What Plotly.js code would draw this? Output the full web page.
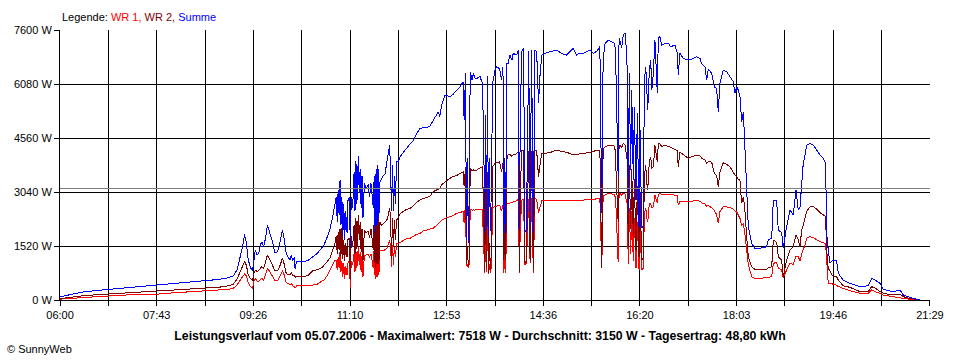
<!DOCTYPE html>
<html>
<head>
<meta charset="utf-8">
<script src="https://cdn.plot.ly/plotly-3.0.1.min.js"></script>
<style>
html,body{margin:0;padding:0;background:#fff;}
#chart{width:960px;height:360px;}
#chart .scatterlayer path, #chart .gridlayer path, #chart .xlines-above, #chart .ylines-above, #chart .shapelayer path, #chart .xtick, #chart .ytick {shape-rendering: crispEdges;}
</style>
</head>
<body>
<div id="chart"></div>
<script>
// Time of day in minutes after midnight
const timeMin = [
360,366,372,385,400,412,430,445,464,480,500,516,530,540,545,549,552,555,557,559,561,563.5,565.5,567,568.5,570.5,572,574,575.5,577.5,579.5,581.5,583,585,587,589.5,591.5,593,595,597.5,599.5,601.5,603.5,605.5,607,608.5,610,611,612.5,616,620,625,630,635,639,642,645,648,651,653.5,
655,656,657,658,659,660,661,662,663,664,665,666.5,667.5,669,670,671,672.5,674,675,676,677,678.5,679.5,680.5,681.5,682.5,683.5,685,687,689,690.5,692,693,694.5,695.5,696.5,697.5,698.5,699.5,700.5,701.5,703,705,707,709,710.5,712,713,714,715,716,717,718,719.5,721.2,723,727,730,734,737.5,741,744.5,748,751.5,755,758.5,762,764,765.5,767.5,771,774,776.5,780,783.5,787,790.5,791.5,793,794,795,796,797,798,800,801.5,803,805,808.5,811,812.5,813.5,814.5,815.5,816.5,817.5,818.5,819.5,820.5,822,824.5,826.5,829.5,831.5,833,834,835,836,837,838.5,840.5,842.5,844,847.5,849.5,850.5,851.5,853,855,856.5,858,859.5,860.5,862,863.5,865.5,867,869,871,872.5,874.5,878,883,890.5,895.5,901,905,908,911.5,915,919,922.5,926,929.5,933,936.5,938.5,940,942,945.5,949,952.5,953.7,956,957,958,959.8,961.5,963.3,965,965.8,966.8,967.9,969.4,970.5,972.2,973.3,975.1,976.5,978.3,979.4,981.2,982.9,984,985.5,986.6,987.6,989.3,990.8,991.9,993.6,995.3,996.4,997.8,998.9,1000.7,1002.5,1006,1009.6,1012.1,1016.7,1019.2,1020.2,1022,1025.6,1030.9,1036.3,1039.9,1043.4,1045.2,1048.7,1050.5,1052.3,1055.9,1058.7,1061.2,1062.9,1064.7,1068.3,1071.9,1075.4,1079,1080.8,1082.6,1084.3,1086.1,1087.9,1089.7,1091.2,1093.3,1095,1098.6,1102.1,1107.5,1114.6,1116.3,1120,1121.7,1125.3,1127,1130.6,1132.3,1135.9,1139.5,1143,1145.9,1148.4,1150.2,1152,1153.7,1155.5,1157.3,1160.9,1164.4,1168,1171.5,1175.1,1176.9,1178,1178.7,1180.4,1182.2,1185.7,1189.3,1191.1,1196.4,1203.6,1214.2,1223.1,1226.7,1230.3,1235.6,1239.1,1249.8,1257,1260.5,1267.6,1274.8,1278
];
// Summe (W)
const summe = [
90,120,170,230,270,300,340,380,410,450,500,540,580,630,680,850,1150,1500,1849,1600,1130,900,820,1150,1400,1270,1300,1550,1640,1500,1750,2110,2000,1800,1620,1320,1350,1410,1650,1970,1700,1310,1200,1130,1250,1100,1200,880,1080,1080,1080,1120,1210,1320,1450,1560,1750,1970,2330,2630,
2900,2200,3100,2400,3380,2100,2900,1800,2700,1700,2500,1900,2800,2900,1500,2900,2600,3600,2500,3900,2700,4050,3000,3700,2600,3500,2300,3300,3150,3250,2900,3300,3000,2600,3500,1900,3700,2100,3800,2300,3300,3400,3500,3550,3900,4050,4360,3600,2500,3800,2500,3500,2700,3900,3890,4030,4150,4270,4400,4500,4700,4830,4850,4850,4900,5070,5200,5300,5150,5490,5770,5740,5720,5800,5910,6000,6150,5070,6380,1700,4000,1600,3000,6430,6200,6380,6250,6240,6290,6100,4500,1900,5200,2000,6300,1800,4000,1950,3000,6100,6475,6570,6500,6200,6550,1877,4000,1900,6650,6660,6897,6750,6944,6900,7038,1970,5000,7000,7085,1970,1900,5500,7000,2100,7050,1900,7040,6990,5537,6300,6900,6944,6991,7038,6940,6897,6990,7085,6897,6950,6944,6990,7038,6944,7000,7131,2440,6800,7226,7319,7280,7226,6381,3472,7366,7300,7100,7460,7518,7000,6381,2440,6381,3660,5912,3378,5442,2815,5255,2064,4786,2018,2100,6193,6568,5723,5349,6474,6756,5900,6381,7319,6600,5818,7366,7413,7178,7226,7226,7131,7178,6944,6334,6944,6803,6756,6800,6850,6803,6650,6568,6193,6500,6381,6005,5950,5301,6099,6474,6430,6287,6146,5818,6000,5912,5723,5020,5300,4411,3097,2064,1595,1455,1455,1500,1689,1736,2815,2790,1970,1900,1455,2064,2533,2400,3097,2533,2600,3190,3848,4082,4363,4411,4363,4222,4082,3988,3900,3097,1877,1407,1032,1126,1100,750,563,469,375,400,610,563,469,300,235,282,141,75,19,0
];
// WR 2 (W)
const wr2 = [
40,60,90,120,150,170,200,230,250,280,310,330,360,400,440,590,760,950,1080,980,700,600,540,760,840,800,820,900,940,890,1050,1270,1200,1080,960,820,830,845,980,1175,1000,750,720,705,780,690,700,640,660,650,656,700,830,850,900,980,1090,1170,1400,1590,
1800,1300,1900,1400,2000,1250,2020,1150,1700,1100,1600,1200,1700,1750,560,1800,1500,2100,1300,2300,1450,2390,1700,2200,1350,2000,1100,1950,1900,1950,1750,2000,1800,1400,2300,900,2500,1000,2600,1000,2200,2100,2150,2200,2250,2400,2580,2300,1150,2300,1500,2250,1700,2250,2350,2420,2500,2550,2580,2680,2750,2820,2850,2880,2920,3050,3100,3140,3140,3250,3330,3380,3426,3480,3500,3567,3600,3200,3750,1000,1500,950,1200,3700,3650,3660,3640,3660,3720,3754,2500,800,3000,900,3600,750,1600,850,1300,3750,3848,3870,3894,3600,3850,1126,2400,1130,3950,4082,4100,4050,4082,4120,4175,797,3000,4220,4200,1032,1100,3000,4190,1100,4200,850,4220,4200,3472,3800,4130,4129,4150,4222,4180,4160,4120,4082,4100,4120,4130,4140,4170,4200,4210,4222,900,4270,4300,4363,4350,4330,3660,2200,4360,4363,4300,4411,4363,4100,3900,1500,3800,2000,3700,1800,3400,1400,3200,1200,3000,1126,1200,3500,3800,3300,3100,3900,4034,3700,3750,4363,4100,3900,4400,4390,4330,4350,4330,4300,4250,4200,3754,4150,4100,3988,4050,4082,4060,3990,3950,3848,3900,3880,3567,3500,3190,3600,3867,3820,3750,3567,3520,3480,3400,3378,2721,2900,2600,1782,1220,938,863,863,863,900,938,1689,1620,1220,1126,656,1130,1400,1501,1830,1700,1501,1970,2100,2299,2500,2627,2627,2560,2460,2400,2365,1970,1407,891,800,656,656,560,400,356,235,235,375,340,240,188,141,170,94,40,19,0
];
// WR 1 (W)
const wr1 = [
25,30,45,70,100,120,140,150,165,200,230,245,265,300,330,420,540,650,730,680,470,380,330,520,610,520,520,580,610,560,700,890,840,740,650,545,550,565,680,825,700,490,470,420,470,400,380,330,400,395,394,400,420,450,520,560,680,840,1000,1126,
1100,850,1200,900,1350,800,1100,650,1050,600,950,700,1050,1100,350,1100,1000,1300,800,1400,900,1500,1000,1350,800,1250,650,1250,1270,1280,1200,1300,1150,900,1500,600,1650,650,1700,700,1400,1380,1400,1410,1450,1550,1690,1500,940,1550,1000,1500,1200,1600,1595,1620,1690,1730,1740,1800,1850,1880,1950,1970,2000,2020,2100,2160,2200,2240,2300,2320,2346,2380,2440,2460,2490,2180,2720,950,1000,900,1000,2550,2530,2540,2530,2545,2545,2540,1500,750,1700,800,2200,720,1000,760,900,2600,2627,2650,2674,2500,2670,750,1800,760,2700,2721,2730,2740,2768,2790,2834,750,2000,2815,2830,1000,1032,2000,2830,1032,2862,750,2850,2840,2440,2600,2800,2815,2820,2830,2815,2815,2810,2810,2808,2812,2815,2815,2820,2830,2850,2862,892,2956,2956,3003,2990,2960,2600,1079,2990,3003,2950,3003,2980,2800,2700,1000,2600,1300,2500,1100,2300,900,2200,850,2000,844,900,2400,2600,2300,2200,2700,2721,2600,2620,2956,2850,2721,2980,3003,2960,2956,2956,2956,2956,2930,2674,2768,2770,2760,2790,2797,2780,2740,2700,2646,2660,2600,2520,2400,2158,2486,2627,2620,2610,2560,2500,2480,2393,2299,2100,2150,1900,1407,1000,656,610,610,620,640,656,1032,1060,900,844,610,844,1032,1000,1220,1220,1100,1300,1407,1550,1736,1783,1760,1689,1640,1610,1595,1407,1032,469,469,440,420,380,330,260,188,188,282,240,190,141,94,75,47,20,0,0
];
const average = 3150;
const seriesNames = ['WR 1', 'WR 2', 'Summe'];
const seriesColors = ['#ff0000', '#800000', '#0000ff'];
const xTickLabels = ['06:00','07:43','09:26','11:10','12:53','14:36','16:20','18:03','19:46','21:29'];
const yTicks = [0, 1520, 3040, 4560, 6080, 7600];
const titleText = 'Leistungsverlauf vom 05.07.2006 - Maximalwert: 7518 W - Durchschnitt: 3150 W - Tagesertrag: 48,80 kWh';

const xStart = 360, xEnd = 1289;
const tickvals = [], ticktext = [];
for (let k = 0; k <= 18; k++) {
  tickvals.push(xStart + k * (xEnd - xStart) / 18);
  ticktext.push(k % 2 === 0 ? xTickLabels[k / 2] : '');
}

const seriesValues = [wr1, wr2, summe];
const traces = seriesValues.map((vals, i) => ({
  x: timeMin, y: vals, type: 'scatter', mode: 'lines', name: seriesNames[i],
  line: {color: seriesColors[i], width: 1}, hoverinfo: 'skip'
}));

const font = {family: 'Liberation Sans, Arial, sans-serif', size: 11, color: '#000'};
const legendHtml = 'Legende: ' + seriesNames.map((n, i) =>
  '<span style="color:' + seriesColors[i] + '">' + n + (i < seriesNames.length - 1 ? ',' : '') + '</span>').join(' ');

const layout = {
  width: 960, height: 360,
  margin: {l: 60, r: 30, t: 30, b: 60, pad: 0},
  paper_bgcolor: '#fff', plot_bgcolor: '#fff',
  font: font, showlegend: false,
  title: {text: '<b>' + titleText + '</b>', x: 0.5, xref: 'container', xanchor: 'center',
          y: 1 - 336/360, yref: 'container', yanchor: 'middle',
          font: {family: 'Liberation Sans, Arial, sans-serif', size: 12.3, color: '#000'}},
  xaxis: {range: [xStart - 0.05, xEnd + 0.05], tickmode: 'array', tickvals: tickvals, ticktext: ticktext,
          showgrid: true, gridcolor: '#000', gridwidth: 1, showline: true, linecolor: '#000', linewidth: 1,
          ticks: 'outside', ticklen: 5, tickcolor: '#000', tickfont: font, zeroline: false, fixedrange: true},
  yaxis: {range: [0, 7600 * 1.0003], tickmode: 'array', tickvals: yTicks, ticktext: yTicks.map(v => v + ' W'),
          showgrid: true, gridcolor: '#000', gridwidth: 1, showline: true, linecolor: '#000', linewidth: 1,
          ticks: 'outside', ticklen: 5, tickcolor: '#000', tickfont: font, zeroline: false, fixedrange: true},
  shapes: [{type: 'line', xref: 'paper', x0: 0, x1: 1, yref: 'y', y0: average, y1: average,
            line: {color: '#808080', width: 1}, layer: 'above'}],
  annotations: [
    {text: legendHtml, xref: 'paper', yref: 'paper', x: 0, y: 1 + 13/270, xanchor: 'left', yanchor: 'middle',
     showarrow: false, font: font},
    {text: '© SunnyWeb', xref: 'paper', yref: 'paper', x: -55/870, y: -49/270, xanchor: 'left', yanchor: 'middle',
     showarrow: false, font: font}
  ]
};
Plotly.newPlot('chart', traces, layout, {staticPlot: true, displayModeBar: false});
</script>
</body>
</html>
